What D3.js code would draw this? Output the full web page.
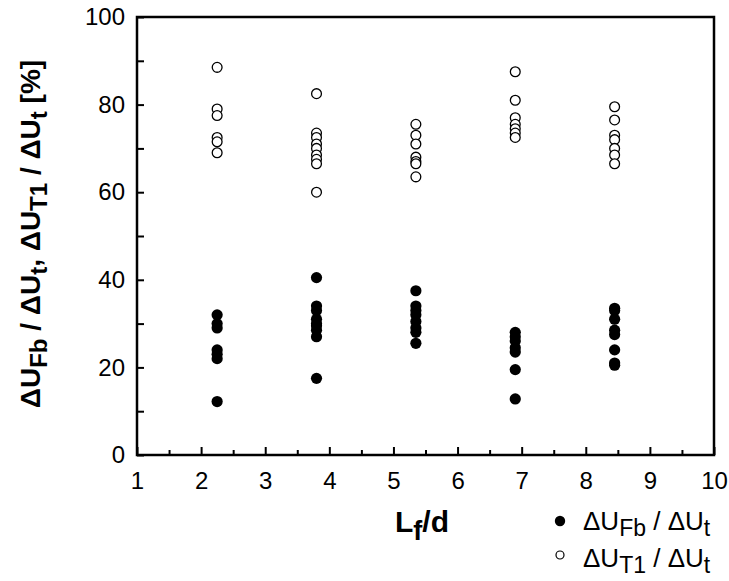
<!DOCTYPE html>
<html><head><meta charset="utf-8">
<script src="https://cdn.jsdelivr.net/npm/d3@7"></script>
<style>body{margin:0;background:#fff}svg{display:block}text{font-family:"Liberation Sans",Arial,sans-serif}</style>
</head><body><svg id="c" width="729" height="581"></svg>
<script>
// Data
const xPositions = [2.25, 3.8, 5.35, 6.9, 8.45];
const fbValues = [
  [32, 30, 29, 24, 23, 22, 12.2],
  [40.5, 34, 33, 31, 30, 29.5, 28.5, 27, 17.5],
  [37.5, 34, 33, 32, 30.5, 29, 28, 25.5],
  [28, 27, 26, 24.5, 23.5, 19.5, 12.8],
  [33.5, 33, 31, 28.5, 27.5, 24, 21, 20.5]
];
const t1Values = [
  [88.5, 79, 77.5, 72.5, 71.5, 69],
  [82.5, 73.5, 72.5, 71, 70, 68.5, 67.5, 66.5, 60],
  [75.5, 73, 71, 68, 67, 66.5, 63.5],
  [87.5, 81, 77, 75.5, 74.5, 73.5, 72.5],
  [79.5, 76.5, 73, 72, 70, 68.5, 66.5]
];
const xTicks = [1,2,3,4,5,6,7,8,9,10];
const xMinorTicks = [1.5,2.5,3.5,4.5,5.5,6.5,7.5,8.5,9.5];
const yTicks = [0,20,40,60,80,100];
const yMinorTicks = [10,30,50,70,90];

const svg = d3.select("#c");
const L = 137, R = 714, T = 17, B = 455;
const x = d3.scaleLinear().domain([1,10]).range([L,R]);
const y = d3.scaleLinear().domain([0,100]).range([B,T]);

// minor ticks
svg.append("g").attr("transform",`translate(0,${B})`)
  .call(d3.axisBottom(x).tickValues(xMinorTicks).tickSize(-5).tickFormat(""))
  .call(g=>g.select(".domain").remove())
  .selectAll("line").attr("stroke","#000").attr("stroke-width",2);
svg.append("g").attr("transform",`translate(${L},0)`)
  .call(d3.axisLeft(y).tickValues(yMinorTicks).tickSize(-7).tickFormat(""))
  .call(g=>g.select(".domain").remove())
  .selectAll("line").attr("stroke","#000").attr("stroke-width",2);

// major ticks
const gx = svg.append("g").attr("transform",`translate(0,${B})`)
  .call(d3.axisBottom(x).tickValues(xTicks).tickSize(-8).tickPadding(17).tickFormat(d3.format("d")));
gx.select(".domain").remove();
gx.selectAll("line").attr("stroke","#000").attr("stroke-width",2);
gx.selectAll("text").attr("font-size",24).attr("fill","#000").attr("font-family","Liberation Sans, Arial, sans-serif");

const gy = svg.append("g").attr("transform",`translate(${L},0)`)
  .call(d3.axisLeft(y).tickValues(yTicks).tickSize(-7).tickPadding(12).tickFormat(d3.format("d")));
gy.select(".domain").remove();
gy.selectAll("line").attr("stroke","#000").attr("stroke-width",2);
gy.selectAll("text").attr("font-size",24).attr("fill","#000").attr("font-family","Liberation Sans, Arial, sans-serif");

// frame
svg.append("rect").attr("x",L).attr("y",T).attr("width",R-L).attr("height",B-T)
  .attr("fill","none").attr("stroke","#000").attr("stroke-width",2.5);

// points
const fbPts = [], t1Pts = [];
xPositions.forEach((xv,i)=>{
  fbValues[i].forEach(v=>fbPts.push([xv,v]));
  t1Values[i].forEach(v=>t1Pts.push([xv,v]));
});
svg.append("g").selectAll("circle").data(t1Pts).join("circle")
  .attr("cx",d=>x(d[0])).attr("cy",d=>y(d[1])).attr("r",4.9)
  .attr("fill","#fff").attr("stroke","#000").attr("stroke-width",1.3);
svg.append("g").selectAll("circle").data(fbPts).join("circle")
  .attr("cx",d=>x(d[0])).attr("cy",d=>y(d[1])).attr("r",5.6)
  .attr("fill","#000");

function seg(t, parts, subSize, shift){
  parts.forEach(p=>{
    const ts = t.append("tspan").text(p[0]);
    if(p[1]==="sub"){ ts.attr("font-size",subSize).attr("dy",shift); }
    else if(p[1]==="up"){ ts.attr("dy",-shift); }
  });
}
// y title
const yt = svg.append("text").attr("transform","translate(40,234) rotate(-90)")
  .attr("text-anchor","middle").attr("font-size",28).attr("font-weight","bold").attr("fill","#000");
seg(yt, [["ΔU"],["Fb","sub"],[" / ΔU","up"],["t","sub"],[", ΔU","up"],["T1","sub"],[" / ΔU","up"],["t","sub"],[" [%]","up"]], 24, 7);

// x title
const xt = svg.append("text").attr("x",395).attr("y",532).attr("font-size",30).attr("font-weight","bold").attr("fill","#000");
seg(xt, [["L"],["f","sub"],["/d","up"]], 27, 8);

// legend
svg.append("circle").attr("cx",560).attr("cy",521).attr("r",5.2).attr("fill","#000");
svg.append("circle").attr("cx",560).attr("cy",555).attr("r",4).attr("fill","#fff").attr("stroke","#000").attr("stroke-width",1.2);
const l1 = svg.append("text").attr("x",583).attr("y",530).attr("font-size",26).attr("fill","#000");
seg(l1, [["ΔU"],["Fb","sub"],[" / ΔU","up"],["t","sub"]], 23, 6);
const l2 = svg.append("text").attr("x",583).attr("y",567).attr("font-size",26).attr("fill","#000");
seg(l2, [["ΔU"],["T1","sub"],[" / ΔU","up"],["t","sub"]], 23, 6);
</script></body></html>
